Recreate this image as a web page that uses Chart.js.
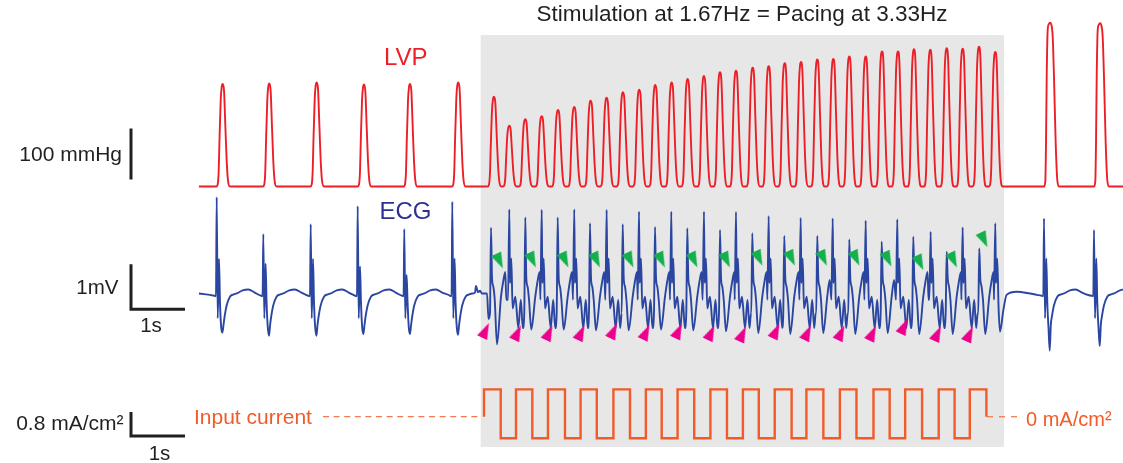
<!DOCTYPE html>
<html>
<head>
<meta charset="utf-8">
<script src="https://cdn.jsdelivr.net/npm/chart.js@4"></script>
<style>
  html, body { margin: 0; padding: 0; background: #fff; }
  canvas { display: block; }
</style>
</head>
<body>
<canvas id="traceChart" width="1123" height="463"></canvas>
<script>
// traces.js — LVP / ECG / input current during 1.67 Hz stimulation

const COLORS = {
    lvp: '#ec1f27',
    ecg: '#2a46a0',
    ecgLabel: '#2e3192',
    current: '#f15a29',
    currentDash: '#f37b52',
    pace: '#ec008c',
    capture: '#14b04b',
    shade: '#e7e7e7',
    ink: '#231f20',
};
const FONT = "'Liberation Sans', Arial, sans-serif";

// axis windows (s, mmHg, mV, mA/cm²)
const X_RANGE = [-3.704, 17.093];
const LVP_RANGE = [-537.2, 370.7];
const ECG_RANGE = [-3.767, 6.522];
const CUR_RANGE = [-1.543, 13.89];

const TRACE_START = -0.02;
const STIM_WINDOW = [5.198, 14.889];

// ==========================================
// LVP (mmHg)
// ==========================================
const LVP_BASE = 5;
const LVP_SINUS_T = [0.420, 1.283, 2.161, 3.037, 3.889, 4.783];
const LVP_SINUS_P = [206, 207, 209, 205, 206, 209];
const LVP_PACED_T = [5.444, 5.728, 6.024, 6.328, 6.630, 6.931, 7.235, 7.531, 7.833, 8.135, 8.431, 8.735, 9.031, 9.333, 9.630, 9.926,
                     10.235, 10.531, 10.828, 11.130, 11.431, 11.728, 12.024, 12.328, 12.630, 12.926, 13.222, 13.524, 13.828, 14.124, 14.426, 14.728];
const LVP_PACED_P = [181, 124, 137, 143, 155, 161, 173, 179, 190, 195, 204, 209, 216, 222, 229, 232,
                     238, 241, 247, 249, 254, 255, 260, 260, 270, 270, 274, 273, 276, 275, 279, 269];
const LVP_AFTER_T = [15.741, 16.667];
const LVP_AFTER_P = [326, 325];
// beat shapes: [s from peak, fraction of developed pressure]
const LVP_SHAPE = [[-0.120, 0], [-0.093, 0.02], [-0.074, 0.15], [-0.061, 0.42], [-0.037, 0.84], [-0.019, 0.97], [0, 1],
                   [0.024, 0.94], [0.050, 0.58], [0.074, 0.25], [0.098, 0.06], [0.135, 0]];
const LVP_SHAPE_WIDE = [[-0.111, 0], [-0.087, 0.03], [-0.074, 0.26], [-0.061, 0.67], [-0.043, 0.955], [-0.024, 0.99], [0, 1],
                        [0.024, 0.99], [0.050, 0.915], [0.074, 0.67], [0.106, 0.26], [0.135, 0.04], [0.167, 0]];

// ==========================================
// ECG (mV)
// ==========================================
const ECG_SINUS_T = [0.309, 1.172, 2.050, 2.920, 3.783, 4.672, 15.630, 16.556];
const ECG_SINUS_R = [2.14, 1.32, 1.54, 1.94, 1.43, 2.04, 1.67, 1.41];
const ECG_SINUS_S = [0.77, 0.66, 0.77, 0.60, 0.41, 0.78, 0.78, 0.78];
const ECG_SINUS_Q = [-0.87, -0.94, -0.94, -0.90, -0.90, -0.92, -1.27, -1.17];
const SINUS_SHAPE = [[-0.046, -0.05], [-0.013, -0.06], [0, 'r'], [0.019, -0.55], [0.043, 's'], [0.061, -0.2], [0.083, -0.75],
                     [0.106, 'q'], [0.126, -0.7], [0.148, -0.5], [0.185, -0.26], [0.246, -0.07], [0.315, -0.02], [0.370, 0.0],
                     [0.481, 0.07], [0.587, 0.09], [0.704, 0.02], [0.833, -0.04]];

const ECG_PACED_A_T = [5.389, 6.024, 6.624, 7.222, 7.828, 8.426, 9.024, 9.630, 10.228, 10.820, 11.431, 12.024, 12.624, 13.209, 13.828, 14.431];
const ECG_PACED_A_TOP = [1.46, 1.69, 1.69, 1.56, 1.54, 1.48, 1.45, 1.41, 1.34, 1.28, 1.28, 1.20, 1.15, 1.26, 0.93, 1.00];
const ECG_PACED_A_LOW = [-1.13, -0.80, -0.80, -0.82, -0.82, -0.80, -0.82, -0.84, -0.88, -0.90, -0.88, -0.90, -0.88, -0.90, -0.90, -0.90];
const ECG_PACED_B_T = [5.728, 6.328, 6.931, 7.531, 8.130, 8.728, 9.333, 9.926, 10.531, 11.124, 11.717, 12.328, 12.913, 13.531, 14.124, 14.728];
const ECG_PACED_B_TOP = [1.87, 1.86, 1.87, 1.86, 1.82, 1.82, 1.82, 1.81, 1.72, 1.68, 1.67, 1.62, 1.65, 1.37, 1.47, 1.56];
const PACED_A_SHAPE = [[-0.019, -0.44], [0, 'top'], [0.019, 0.34], [0.043, 0.15], [0.069, -0.14], [0.111, 'low'],
                       [0.185, -0.07], [0.231, 0.30], [0.265, 0.48], [0.283, -0.14]];
const PACED_B_SHAPE = [[-0.024, -0.14], [0, 'top'], [0.013, 0.23], [0.037, 0.78], [0.061, -0.33], [0.111, -0.07],
                       [0.167, -0.77], [0.213, -0.14], [0.250, -0.77], [0.278, -0.44]];

const ECG_START = [[TRACE_START, 0.0]];
const ECG_LEAD_IN = [[5.093, 0.02], [5.111, 0.17], [5.148, 0.03], [5.185, 0.06], [5.222, 0.0], [5.315, 0.0], [5.343, -0.57]];
const ECG_RECOVERY = [[14.815, -0.85], [14.877, -0.37], [14.938, -0.03], [15.123, 0.04], [15.370, 0.0], [15.494, -0.03]];

// pacing marks (magenta) and capture marks (green)
const PACE_MARK_T = [5.287, 5.880, 6.463, 7.056, 7.657, 8.259, 8.861, 9.463, 10.046, 10.667, 11.250, 11.870, 12.454, 13.037, 13.657, 14.250];
const PACE_MARK_MV = [-0.82, -0.87, -0.87, -0.87, -0.83, -0.86, -0.83, -0.87, -0.90, -0.83, -0.87, -0.87, -0.88, -0.73, -0.89, -0.90];
const CAPTURE_MARK_T = [5.546, 6.157, 6.759, 7.343, 7.963, 8.546, 9.148, 9.750, 10.352, 10.954, 11.546, 12.148, 12.741, 13.333, 13.954, 14.519];
const CAPTURE_MARK_MV = [0.72, 0.74, 0.74, 0.74, 0.74, 0.74, 0.74, 0.74, 0.78, 0.78, 0.78, 0.78, 0.76, 0.68, 0.74, 1.19];

// ==========================================
// Input current (mA/cm²)
// ==========================================
const STIM_EDGE_T = [5.259, 5.569, 5.852, 6.154, 6.444, 6.759, 7.048, 7.348, 7.656, 7.963, 8.257, 8.550, 8.844, 9.152, 9.452, 9.759,
                     10.054, 10.348, 10.643, 10.956, 11.230, 11.544, 11.850, 12.157, 12.472, 12.772, 13.059, 13.372, 13.680, 13.974, 14.256, 14.563];
const STIM_LEVEL = [0.91, -0.72, 0.91, -0.72, 0.91, -0.72, 0.91, -0.72, 0.91, -0.72, 0.91, -0.72, 0.91, -0.72, 0.91, -0.72,
                    0.91, -0.72, 0.91, -0.72, 0.91, -0.72, 0.91, -0.72, 0.91, -0.72, 0.91, -0.72, 0.91, -0.72, 0.91, 0];
const ZERO_DASH_LEFT = [2.278, 5.222];
const ZERO_DASH_RIGHT = [14.574, 15.241];

// ------------------------------------------
// trace assembly
// ------------------------------------------
function placeShape(t0, shape, slots) {
    return shape.map(([dt, v]) => ({ x: t0 + dt, y: typeof v === 'string' ? slots[v] : v }));
}

function pairs(list) {
    return list.map(([x, y]) => ({ x, y }));
}

// each segment is cut where the next one begins
function joinSegments(segments) {
    segments.sort((a, b) => a[0].x - b[0].x);
    const out = [];
    segments.forEach((seg, i) => {
        const stop = i + 1 < segments.length ? segments[i + 1][0].x : Infinity;
        seg.forEach(p => { if (p.x < stop) out.push(p); });
    });
    return out;
}

function buildLvp() {
    const beat = (t, p, shape) => shape.map(([dt, f]) => ({ x: t + dt, y: LVP_BASE + f * (p - LVP_BASE) }));
    const segs = [[{ x: TRACE_START, y: LVP_BASE }], [{ x: X_RANGE[1] + 0.5, y: LVP_BASE }]];
    LVP_SINUS_T.forEach((t, i) => segs.push(beat(t, LVP_SINUS_P[i], LVP_SHAPE)));
    LVP_PACED_T.forEach((t, i) => segs.push(beat(t, LVP_PACED_P[i], LVP_SHAPE)));
    LVP_AFTER_T.forEach((t, i) => segs.push(beat(t, LVP_AFTER_P[i], LVP_SHAPE_WIDE)));
    return joinSegments(segs);
}

function buildEcg() {
    const segs = [pairs(ECG_START), pairs(ECG_LEAD_IN), pairs(ECG_RECOVERY)];
    ECG_SINUS_T.forEach((t, i) => segs.push(placeShape(t, SINUS_SHAPE,
        { r: ECG_SINUS_R[i], s: ECG_SINUS_S[i], q: ECG_SINUS_Q[i] })));
    ECG_PACED_A_T.forEach((t, i) => segs.push(placeShape(t, PACED_A_SHAPE,
        { top: ECG_PACED_A_TOP[i], low: ECG_PACED_A_LOW[i] })));
    ECG_PACED_B_T.forEach((t, i) => segs.push(placeShape(t, PACED_B_SHAPE, { top: ECG_PACED_B_TOP[i] })));
    return joinSegments(segs);
}

function buildCurrent() {
    const pts = [];
    let level = 0;
    STIM_EDGE_T.forEach((t, i) => {
        pts.push({ x: t, y: level });
        level = STIM_LEVEL[i];
        pts.push({ x: t, y: level });
    });
    return pts;
}

// elongated arrow head used as point style
function arrowHead(color) {
    const c = document.createElement('canvas');
    c.width = 11;
    c.height = 16;
    const g = c.getContext('2d');
    g.fillStyle = color;
    g.beginPath();
    g.moveTo(5.5, 0);
    g.lineTo(11, 16);
    g.lineTo(0, 16);
    g.closePath();
    g.fill();
    return c;
}

// ------------------------------------------
// plugins: stimulation shading, scale bars, labels
// ------------------------------------------
const stimShade = {
    id: 'stimShade',
    beforeDatasetsDraw(chart) {
        const { ctx, scales: { x } } = chart;
        const x0 = x.getPixelForValue(STIM_WINDOW[0]);
        const x1 = x.getPixelForValue(STIM_WINDOW[1]);
        ctx.save();
        ctx.fillStyle = COLORS.shade;
        ctx.fillRect(x0, 35, x1 - x0, 412);
        ctx.restore();
    }
};

function drawText(ctx, str, x, y, size, color, align) {
    ctx.font = `${size}px ${FONT}`;
    ctx.fillStyle = color;
    ctx.textAlign = align;
    ctx.textBaseline = 'alphabetic';
    ctx.fillText(str, x, y);
}

const traceLabels = {
    id: 'traceLabels',
    afterDraw(chart) {
        const { ctx } = chart;
        const { x, yLvp, yEcg, yCur } = chart.scales;
        const sec = x.getPixelForValue(1) - x.getPixelForValue(0);
        const mmHg100 = yLvp.getPixelForValue(0) - yLvp.getPixelForValue(100);
        const mv1 = yEcg.getPixelForValue(0) - yEcg.getPixelForValue(1);
        const cur08 = yCur.getPixelForValue(0) - yCur.getPixelForValue(0.8);
        const barX = 131;

        ctx.save();
        ctx.strokeStyle = COLORS.ink;
        ctx.lineWidth = 3;
        ctx.lineJoin = 'miter';
        ctx.lineCap = 'butt';

        ctx.beginPath();
        ctx.moveTo(barX, 179.5 - mmHg100);
        ctx.lineTo(barX, 179.5);
        ctx.stroke();

        ctx.beginPath();
        ctx.moveTo(barX, 309.3 - mv1);
        ctx.lineTo(barX, 309.3);
        ctx.lineTo(barX + sec, 309.3);
        ctx.stroke();

        ctx.beginPath();
        ctx.moveTo(barX, 436 - cur08);
        ctx.lineTo(barX, 436);
        ctx.lineTo(barX + sec, 436);
        ctx.stroke();

        drawText(ctx, 'Stimulation at 1.67Hz = Pacing at 3.33Hz', 742, 20.5, 22.5, COLORS.ink, 'center');
        drawText(ctx, 'LVP', 384, 65, 24, COLORS.lvp, 'left');
        drawText(ctx, 'ECG', 379.5, 219.3, 24, COLORS.ecgLabel, 'left');
        drawText(ctx, '100 mmHg', 122, 160.7, 21, COLORS.ink, 'right');
        drawText(ctx, '1mV', 118.5, 294, 20.5, COLORS.ink, 'right');
        drawText(ctx, '1s', 151, 331.7, 20.5, COLORS.ink, 'center');
        drawText(ctx, '0.8 mA/cm²', 123.5, 430, 21, COLORS.ink, 'right');
        drawText(ctx, '1s', 159.5, 460, 20.5, COLORS.ink, 'center');
        drawText(ctx, 'Input current', 194, 424, 21, COLORS.current, 'left');
        drawText(ctx, '0 mA/cm²', 1026, 426, 20, COLORS.current, 'left');
        ctx.restore();
    }
};

// ------------------------------------------
// chart
// ------------------------------------------
const paceMarks = PACE_MARK_T.map((t, i) => ({ x: t, y: PACE_MARK_MV[i] }));
const captureMarks = CAPTURE_MARK_T.map((t, i) => ({ x: t, y: CAPTURE_MARK_MV[i] }));

new Chart(document.getElementById('traceChart'), {
    type: 'line',
    data: {
        datasets: [
            {
                label: 'pacing',
                data: paceMarks,
                yAxisID: 'yEcg',
                showLine: false,
                pointStyle: arrowHead(COLORS.pace),
                pointRadius: 5,
                rotation: 25,
            },
            {
                label: 'capture',
                data: captureMarks,
                yAxisID: 'yEcg',
                showLine: false,
                pointStyle: arrowHead(COLORS.capture),
                pointRadius: 5,
                rotation: 155,
            },
            {
                label: 'ECG',
                data: buildEcg(),
                yAxisID: 'yEcg',
                borderColor: COLORS.ecg,
                borderWidth: 1.9,
                pointRadius: 0,
                cubicInterpolationMode: 'monotone',
            },
            {
                label: 'LVP',
                data: buildLvp(),
                yAxisID: 'yLvp',
                borderColor: COLORS.lvp,
                borderWidth: 1.9,
                pointRadius: 0,
                cubicInterpolationMode: 'monotone',
            },
            {
                label: 'Input current',
                data: buildCurrent(),
                yAxisID: 'yCur',
                borderColor: COLORS.current,
                borderWidth: 2.4,
                pointRadius: 0,
                tension: 0,
            },
            {
                label: 'zero left',
                data: ZERO_DASH_LEFT.map(t => ({ x: t, y: 0 })),
                yAxisID: 'yCur',
                borderColor: COLORS.currentDash,
                borderWidth: 1.3,
                borderDash: [6, 4.6],
                pointRadius: 0,
            },
            {
                label: 'zero right',
                data: ZERO_DASH_RIGHT.map(t => ({ x: t, y: 0 })),
                yAxisID: 'yCur',
                borderColor: COLORS.currentDash,
                borderWidth: 1.3,
                borderDash: [6, 6],
                pointRadius: 0,
            },
        ]
    },
    options: {
        responsive: false,
        animation: false,
        events: [],
        layout: { padding: 0, autoPadding: false },
        plugins: {
            legend: { display: false },
            tooltip: { enabled: false }
        },
        scales: {
            x: { type: 'linear', min: X_RANGE[0], max: X_RANGE[1], display: false },
            yLvp: { type: 'linear', min: LVP_RANGE[0], max: LVP_RANGE[1], display: false },
            yEcg: { type: 'linear', min: ECG_RANGE[0], max: ECG_RANGE[1], display: false },
            yCur: { type: 'linear', min: CUR_RANGE[0], max: CUR_RANGE[1], display: false },
        }
    },
    plugins: [stimShade, traceLabels]
});
</script>
</body>
</html>
